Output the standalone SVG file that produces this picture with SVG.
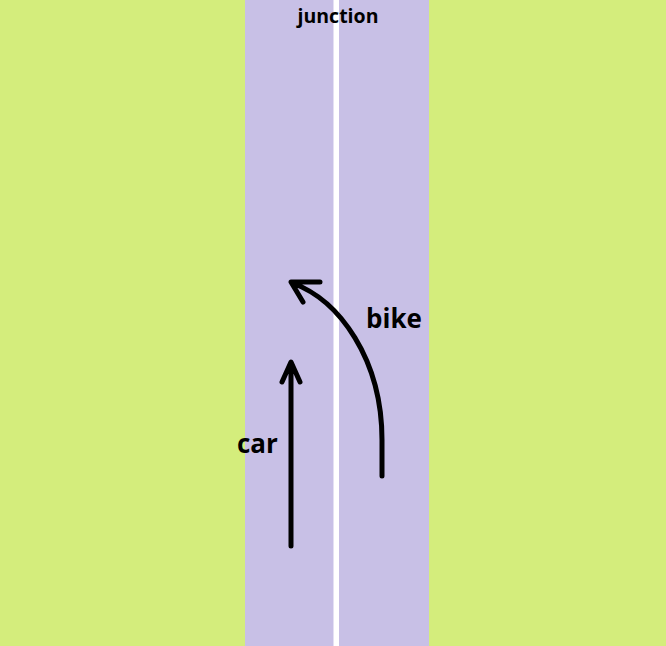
<svg xmlns="http://www.w3.org/2000/svg" width="666" height="646" viewBox="0 0 666 646">
<style>
.lbl{font-family:"Open Sans","Noto Sans",sans-serif;font-weight:bold;fill:#000}
.arr{fill:none;stroke:#000;stroke-width:5;stroke-linecap:round;stroke-linejoin:round}
</style>
<g id="background">
<rect x="0" y="0" width="666" height="646" fill="#d4ed7c"/>
<rect x="245" y="0" width="184" height="646" fill="#c8c0e6"/>
<rect x="333.5" y="0" width="5.5" height="646" fill="#ffffff"/>
</g>
<g id="junction"><text class="lbl" x="338" y="23" font-size="19.5" text-anchor="middle">junction</text></g>
<g id="car"><text class="lbl" x="237" y="453" font-size="26">car</text></g>
<g id="bike"><text class="lbl" x="366" y="328" font-size="26">bike</text></g>
<g id="connectors">
<path class="arr" d="M291,546 L291,363 M282,382 L291,362 L300,382"/>
<path class="arr" d="M382,476 L382,440 C382,360 340,300 292,283 M320,282 L291,282 L303,302"/>
</g>
</svg>
